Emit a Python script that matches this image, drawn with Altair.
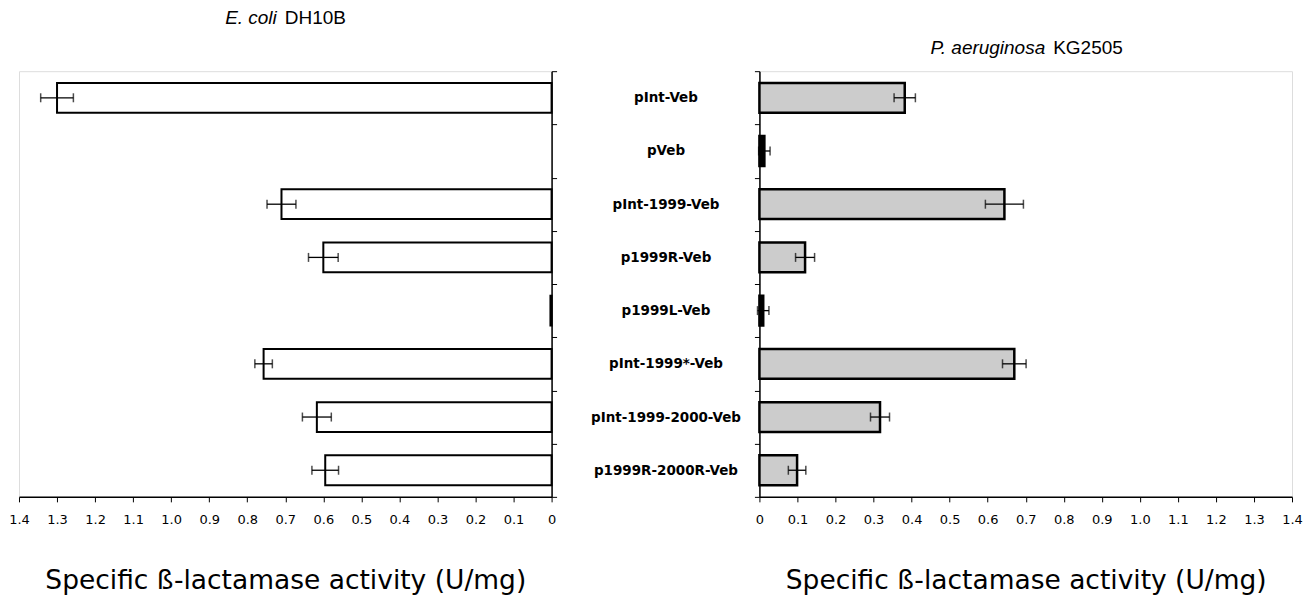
import altair as alt
import pandas as pd

constructs = ["pInt-Veb", "pVeb", "pInt-1999-Veb", "p1999R-Veb", "p1999L-Veb",
              "pInt-1999*-Veb", "pInt-1999-2000-Veb", "p1999R-2000R-Veb"]
ecoli_activity = [1.30, 0.0, 0.71, 0.60, 0.003, 0.757, 0.617, 0.595]
ecoli_error = [0.043, 0.0, 0.038, 0.039, 0.0, 0.023, 0.038, 0.035]
paer_activity = [0.382, 0.013, 0.644, 0.12, 0.01, 0.67, 0.317, 0.099]
paer_error = [0.028, 0.015, 0.05, 0.025, 0.015, 0.031, 0.025, 0.023]
x_ticks = [0.0, 0.1, 0.2, 0.3, 0.4, 0.5, 0.6, 0.7, 0.8, 0.9, 1.0, 1.1, 1.2, 1.3, 1.4]
axis_title = "Specific ß-lactamase activity (U/mg)"
left_title = ["E. coli", "DH10B"]
right_title = ["P. aeruginosa", "KG2505"]

df = pd.DataFrame({
    "construct": constructs,
    "ec": ecoli_activity,
    "ec_err": ecoli_error,
    "pa": paer_activity,
    "pa_err": paer_error,
})
df["ec_lo"] = df["ec"] - df["ec_err"]
df["ec_hi"] = df["ec"] + df["ec_err"]
df["pa_lo"] = df["pa"] - df["pa_err"]
df["pa_hi"] = df["pa"] + df["pa_err"]

W, H = 533, 426
label_expr = "datum.value == 0 ? '0' : format(datum.value, '.1f')"


def x_axis():
    return alt.Axis(values=x_ticks, labelExpr=label_expr, tickSize=5, labelPadding=12,
                    labelOverlap=False, labelFlush=False, labelSeparation=0,
                    labelFont="DejaVu Sans", labelFontSize=13, labelColor="black",
                    title=axis_title, titleFont="DejaVu Sans", titleFontSize=26.5,
                    titleFontWeight="normal", titleColor="black", titlePadding=41,
                    grid=False, domainColor="black", domainWidth=1.5, tickColor="black")


def make_panel(val, lo, hi, err, reverse, fill, stroke_w, y_axis, title_parts, title_x, title_y):
    base = alt.Chart(df)
    xscale = alt.Scale(domain=[0, 1.4], reverse=reverse, nice=False)
    yscale = alt.Scale(domain=constructs, paddingInner=0, paddingOuter=0)

    def Y():
        return alt.Y("construct:N", scale=yscale, axis=y_axis, sort=constructs)

    def X(f):
        return alt.X(f"{f}:Q", scale=xscale, axis=x_axis(), title=axis_title)

    bars = base.transform_filter(f"datum.{val} > 0").mark_bar(
        stroke="black", strokeWidth=stroke_w,
        height=alt.RelativeBandSize(0.56)).encode(
        x=X(val), y=Y(),
        fill=alt.condition(f"datum.{val} < 0.05", alt.value("black"), alt.value(fill)))
    eb = base.transform_filter(f"datum.{err} > 0")
    rule = eb.mark_rule(color="black", strokeWidth=1.3).encode(
        x=X(lo), x2=f"{hi}:Q", y=Y())
    cap_lo = eb.mark_tick(color="black", thickness=1.5, size=9, orient="vertical").encode(
        x=X(lo), y=Y())
    cap_hi = eb.mark_tick(color="black", thickness=1.5, size=9, orient="vertical").encode(
        x=X(hi), y=Y())
    t1 = alt.Chart(pd.DataFrame({"t": [title_parts[0]]})).mark_text(
        font="Liberation Sans", fontSize=19, fontStyle="italic", align="right",
        baseline="alphabetic", color="black").encode(
        text="t:N", x=alt.value(title_x - 4), y=alt.value(title_y))
    t2 = alt.Chart(pd.DataFrame({"t": [title_parts[1]]})).mark_text(
        font="Liberation Sans", fontSize=19, align="left",
        baseline="alphabetic", color="black").encode(
        text="t:N", x=alt.value(title_x + 4), y=alt.value(title_y))
    return alt.layer(bars, rule, cap_lo, cap_hi, t1, t2).properties(width=W, height=H)


left_y = alt.Axis(orient="right", title=None, tickBand="extent", tickSize=5,
                  labelAlign="center", labelPadding=109, labelFont="DejaVu Sans",
                  labelFontSize=13.5, labelFontWeight="bold", labelColor="black",
                  domainColor="black", domainWidth=1.5, tickColor="black")
right_y = alt.Axis(orient="left", title=None, tickBand="extent", tickSize=5,
                   labels=False, domainColor="black", domainWidth=1.5, tickColor="black")

left = make_panel("ec", "ec_lo", "ec_hi", "ec_err", True, "white", 2, left_y,
                  left_title, 262, -47)
right = make_panel("pa", "pa_lo", "pa_hi", "pa_err", False, "#cccccc", 2.5, right_y,
                   right_title, 290, -17)

chart = alt.hconcat(left, right, spacing=208, bounds="flush").properties(
    padding={"left": 0, "top": 0, "right": 0, "bottom": 0}
).configure_view(stroke="black", strokeWidth=1).configure_axis(
    labelOverlap=False
).configure(background="white")

chart.save("out.html", embed_options={"renderer": "svg", "actions": False})
